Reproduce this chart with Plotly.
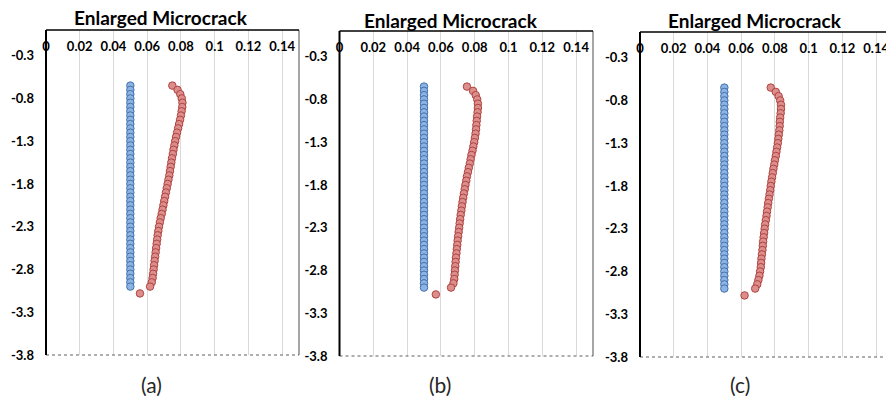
import plotly.graph_objects as go

W, H = 886, 398

# Depth of the intact (reference) line, shared by the crack profiles
depth = [-0.65, -0.70, -0.75, -0.80, -0.85, -0.90, -0.95, -1.00,
         -1.05, -1.10, -1.15, -1.20, -1.25, -1.30, -1.35, -1.40,
         -1.45, -1.50, -1.55, -1.60, -1.65, -1.70, -1.75, -1.80,
         -1.85, -1.90, -1.95, -2.00, -2.05, -2.10, -2.15, -2.20,
         -2.25, -2.30, -2.35, -2.40, -2.45, -2.50, -2.55, -2.60,
         -2.65, -2.70, -2.75, -2.80, -2.85, -2.90, -2.95, -3.00]

intact_x = [0.05, 0.05, 0.05, 0.05, 0.05, 0.05, 0.05, 0.05,
            0.05, 0.05, 0.05, 0.05, 0.05, 0.05, 0.05, 0.05,
            0.05, 0.05, 0.05, 0.05, 0.05, 0.05, 0.05, 0.05,
            0.05, 0.05, 0.05, 0.05, 0.05, 0.05, 0.05, 0.05,
            0.05, 0.05, 0.05, 0.05, 0.05, 0.05, 0.05, 0.05,
            0.05, 0.05, 0.05, 0.05, 0.05, 0.05, 0.05, 0.05]

# Crack profile depths: same stations plus the crack tip
crack_depth = [-0.65, -0.70, -0.75, -0.80, -0.85, -0.90, -0.95, -1.00,
               -1.05, -1.10, -1.15, -1.20, -1.25, -1.30, -1.35, -1.40,
               -1.45, -1.50, -1.55, -1.60, -1.65, -1.70, -1.75, -1.80,
               -1.85, -1.90, -1.95, -2.00, -2.05, -2.10, -2.15, -2.20,
               -2.25, -2.30, -2.35, -2.40, -2.45, -2.50, -2.55, -2.60,
               -2.65, -2.70, -2.75, -2.80, -2.85, -2.90, -2.95, -3.00,
               -3.08]

crack_x_a = [0.0749, 0.0780, 0.0796, 0.0805, 0.0809, 0.0808, 0.0804, 0.0800,
             0.0795, 0.0789, 0.0783, 0.0777, 0.0771, 0.0766, 0.0761, 0.0756,
             0.0752, 0.0747, 0.0743, 0.0739, 0.0735, 0.0731, 0.0726, 0.0721,
             0.0716, 0.0711, 0.0706, 0.0701, 0.0696, 0.0691, 0.0686, 0.0680,
             0.0675, 0.0670, 0.0666, 0.0662, 0.0659, 0.0656, 0.0653, 0.0650,
             0.0647, 0.0644, 0.0641, 0.0638, 0.0635, 0.0632, 0.0627, 0.0617,
             0.0557]

crack_x_b = [0.0754, 0.0790, 0.0806, 0.0815, 0.0819, 0.0819, 0.0817, 0.0814,
             0.0812, 0.0810, 0.0808, 0.0805, 0.0801, 0.0797, 0.0792, 0.0787,
             0.0781, 0.0776, 0.0771, 0.0765, 0.0760, 0.0754, 0.0750, 0.0745,
             0.0741, 0.0736, 0.0732, 0.0728, 0.0724, 0.0721, 0.0717, 0.0714,
             0.0711, 0.0708, 0.0705, 0.0702, 0.0699, 0.0697, 0.0694, 0.0692,
             0.0689, 0.0687, 0.0685, 0.0683, 0.0681, 0.0679, 0.0674, 0.0660,
             0.0570]

crack_x_c = [0.0775, 0.0805, 0.0822, 0.0831, 0.0836, 0.0836, 0.0834, 0.0831,
             0.0829, 0.0828, 0.0826, 0.0823, 0.0820, 0.0817, 0.0813, 0.0809,
             0.0805, 0.0800, 0.0796, 0.0791, 0.0787, 0.0783, 0.0779, 0.0775,
             0.0772, 0.0768, 0.0764, 0.0760, 0.0757, 0.0753, 0.0750, 0.0746,
             0.0742, 0.0739, 0.0736, 0.0733, 0.0730, 0.0728, 0.0726, 0.0723,
             0.0720, 0.0718, 0.0716, 0.0712, 0.0708, 0.0702, 0.0695, 0.0683,
             0.0620]

panel_title = "Enlarged Microcrack"
panel_labels = ["(a)", "(b)", "(c)"]

x_ticks = [0, 0.02, 0.04, 0.06, 0.08, 0.10, 0.12, 0.14]
x_ticktext = ["0", "0.02", "0.04", "0.06", "0.08", "0.1", "0.12", "0.14"]
y_ticks = [-3.8, -3.3, -2.8, -2.3, -1.8, -1.3, -0.8, -0.3]
y_ticktext = ["-3.8", "-3.3", "-2.8", "-2.3", "-1.8", "-1.3", "-0.8", "-0.3"]
x_max, y_min, y_max = 0.15, -3.8, 0.0

# Plot-area boxes in pixels: left, right, top, bottom
boxes = [(46, 299, 30, 355), (339.5, 593, 31, 356), (640, 893, 32, 357)]
title_pos = [(161, 17.5), (451, 21), (755, 21)]
label_pos = [(151, 384), (440, 384), (740, 384)]

FONT = "Lato"
INTACT_FILL, INTACT_EDGE = "#8DB3E2", "#4272AE"
CRACK_FILL, CRACK_EDGE = "#DB8E8C", "#B0433F"

fig = go.Figure()
layout = dict(
    width=W, height=H, margin=dict(l=0, r=0, t=0, b=0, pad=0),
    paper_bgcolor="white", plot_bgcolor="white", showlegend=False,
)
shapes, annotations = [], []

for i, crack_x in enumerate([crack_x_a, crack_x_b, crack_x_c]):
    n = "" if i == 0 else str(i + 1)
    left, right, top, bottom = boxes[i]
    vis_right = min(right, W)
    rng_max = x_max * (vis_right - left) / (right - left)

    fig.add_trace(go.Scatter(
        x=intact_x, y=depth, mode="markers", xaxis="x" + n, yaxis="y" + n,
        marker=dict(size=7.5, color=INTACT_FILL, line=dict(color=INTACT_EDGE, width=1)),
        cliponaxis=False,
    ))
    fig.add_trace(go.Scatter(
        x=crack_x, y=crack_depth, mode="markers", xaxis="x" + n, yaxis="y" + n,
        marker=dict(size=7.5, color=CRACK_FILL, line=dict(color=CRACK_EDGE, width=1)),
        cliponaxis=False,
    ))

    layout["xaxis" + n] = dict(
        domain=[left / W, vis_right / W], range=[0, rng_max], anchor="y" + n,
        side="top", ticklabelposition="inside", ticklabeloverflow="allow",
        ticks="", ticklabelstandoff=9, automargin=False,
        tickmode="array", tickvals=x_ticks, ticktext=x_ticktext,
        tickfont=dict(family=FONT, size=13, color="black", weight="bold"),
        showgrid=True, gridcolor="#D9D9D9", gridwidth=1,
        zeroline=False, showline=False, fixedrange=True,
    )
    layout["yaxis" + n] = dict(
        domain=[1 - bottom / H, 1 - top / H], range=[y_min, y_max], anchor="x" + n,
        ticks="", ticklabelstandoff=11, automargin=False,
        tickmode="array", tickvals=y_ticks, ticktext=y_ticktext,
        tickfont=dict(family=FONT, size=13, color="black", weight="bold"),
        showgrid=False, zeroline=False, showline=False, fixedrange=True,
    )

    xr, yr = "x" + n + " domain", "y" + n + " domain"
    # bottom (dotted grey), right (thin grey), top and left (black)
    shapes.append(dict(type="line", xref=xr, yref=yr, x0=0, x1=1, y0=0, y1=0,
                       line=dict(color="#5E5E5E", width=1, dash="dot")))
    if right <= W:
        shapes.append(dict(type="line", xref=xr, yref=yr, x0=1, x1=1, y0=0, y1=1,
                           line=dict(color="#4D4D4D", width=1)))
    shapes.append(dict(type="line", xref=xr, yref=yr, x0=0, x1=1, y0=1, y1=1,
                       line=dict(color="black", width=1.5)))
    shapes.append(dict(type="line", xref=xr, yref=yr, x0=0, x1=0, y0=0, y1=1,
                       line=dict(color="black", width=2)))

    tx, ty = title_pos[i]
    annotations.append(dict(
        text=panel_title, xref="paper", yref="paper", x=tx / W, y=1 - ty / H,
        xanchor="center", yanchor="middle", showarrow=False,
        font=dict(family=FONT, size=19, color="black", weight="bold"),
    ))
    lx, ly = label_pos[i]
    annotations.append(dict(
        text=panel_labels[i], xref="paper", yref="paper", x=lx / W, y=1 - ly / H,
        xanchor="center", yanchor="middle", showarrow=False,
        font=dict(family=FONT, size=21, color="#262626"),
    ))

layout["shapes"] = shapes
layout["annotations"] = annotations
fig.update_layout(**layout)
fig.write_html("out.html")
